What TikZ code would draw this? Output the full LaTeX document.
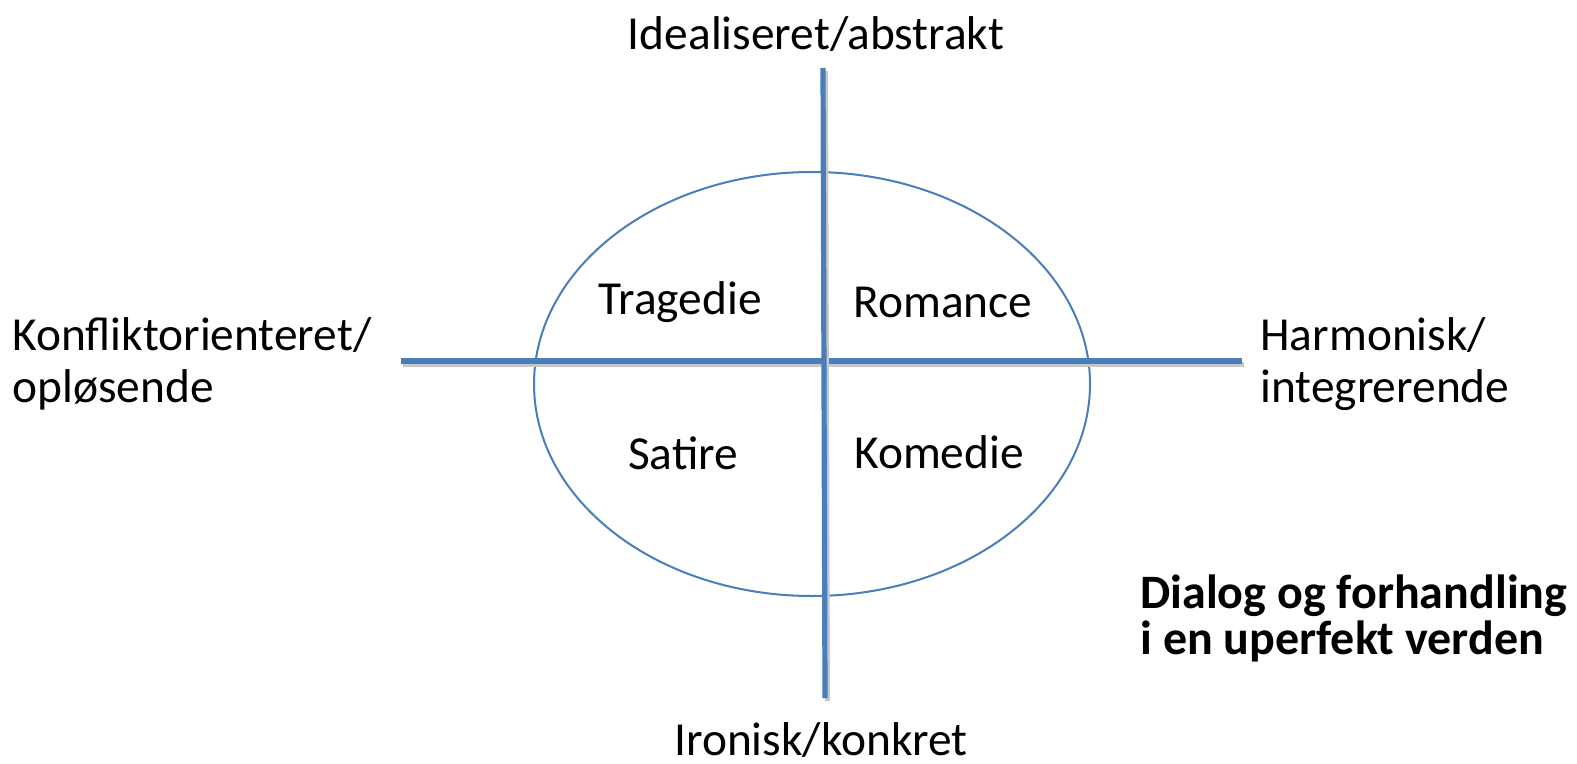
\documentclass[tikz,border=0pt]{standalone}
\usepackage{fontspec}
\setmainfont{Carlito}
\usepackage{tikz}
\definecolor{axisBlue}{HTML}{4A7EBB}
\colorlet{axisShadow}{black!22}

\begin{document}
\begin{tikzpicture}[
  x=0.5pt, y=-0.5pt,
  every node/.style={
    inner sep=0pt,
    font=\fontsize{23.7}{26}\selectfont,
  },
  axis/.style={
    draw=axisBlue,
    line width=2.6pt,
    preaction={
      draw=axisShadow,
      line width=2.6pt,
      transform canvas={shift={(1.2pt,-1.6pt)}},
    },
  },
  genre/.style={
    anchor=center,
  },
  pole/.style={
    align=left,
  },
  motto/.style={
    align=left,
    anchor=north west,
    font=\fontsize{24}{23}\selectfont\bfseries,
  }
]
\useasboundingbox (0,0) rectangle (1577,764);
% axes
\coordinate (top) at (823,68);
\coordinate (bottom) at (825,698);
\coordinate (left) at (401,361);
\coordinate (right) at (1242,361);
\draw[draw=axisBlue, line width=1pt] (812,384) ellipse [x radius=278, y radius=212];
\draw[axis] (left) -- (right);
\draw[axis] (top) -- (bottom);
% pole labels
\node[anchor=south] (ideal) at (816,52) {Idealiseret/abstrakt};
\node[anchor=north] (ironic) at (821,722) {Ironisk/konkret};
\node[pole, anchor=west] (conflict) at (12,364) {Konfliktorienteret/\\opløsende};
\node[pole, anchor=west] (harmonic) at (1260,364) {Harmonisk/\\integrerende};
% genres
\node[genre] (tragedy) at (680,302) {Tragedie};
\node[genre] (romance) at (943,302) {Romance};
\node[genre] (satire) at (683,453) {Satire};
\node[genre] (comedy) at (939,452) {Komedie};
\node[motto] (dialog) at (1140,574) {Dialog og forhandling\\i en uperfekt verden};
\end{tikzpicture}
\end{document}
